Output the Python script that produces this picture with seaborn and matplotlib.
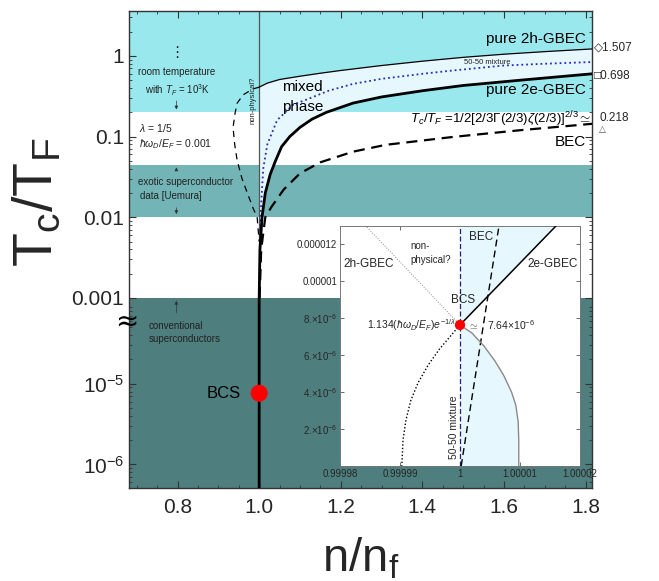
import numpy as np
import pandas as pd
import matplotlib
matplotlib.use("Agg")
import matplotlib.pyplot as plt
import seaborn as sns

# ---- main panel (x = n/n_f, y = Tc/T_F) ----
# upper edge of the mixed phase (pure 2h-GBEC), thin solid
x_2h = [1.0, 1.02, 1.05, 1.1, 1.15, 1.2, 1.3, 1.4, 1.5, 1.6, 1.7, 1.816]
y_2h = [0.41, 0.46, 0.51, 0.56, 0.61, 0.66, 0.76, 0.86, 0.96, 1.05, 1.13, 1.22]
# 50-50 mixture, blue dotted
x_mix = [1.0, 1.003, 1.01, 1.02, 1.044, 1.084, 1.118, 1.17, 1.23, 1.3, 1.4, 1.475, 1.6, 1.7, 1.816]
y_mix = [0.001, 0.01, 0.04, 0.08, 0.16, 0.25, 0.29, 0.37, 0.45, 0.52, 0.6, 0.66, 0.76, 0.8, 0.84]
# pure 2e-GBEC, thick solid (runs down x = 1 to the bottom)
x_2e = [1.0, 1.0, 1.002, 1.007, 1.015, 1.027, 1.04, 1.055, 1.075, 1.10, 1.13, 1.165,
        1.23, 1.3, 1.4, 1.5, 1.64, 1.816]
y_2e = [5.1e-7, 0.001, 0.004, 0.01, 0.02, 0.034, 0.05, 0.075, 0.1, 0.13, 0.165, 0.2,
        0.26, 0.31, 0.37, 0.43, 0.5, 0.6]
# BEC, thick dashed
x_bec = [1.001, 1.005, 1.015, 1.03, 1.06, 1.1, 1.15, 1.23, 1.31, 1.475, 1.64, 1.816]
y_bec = [0.001, 0.004, 0.01, 0.0134, 0.022, 0.035, 0.048, 0.065, 0.079, 0.099, 0.12, 0.144]
# "non-physical?" branch, thin dashed
x_np = [1.0, 0.985, 0.961, 0.946, 0.941, 0.936, 0.94, 0.946, 0.958, 0.971, 0.985, 0.995, 1.0]
y_np = [0.41, 0.39, 0.33, 0.26, 0.196, 0.13, 0.08, 0.051, 0.03, 0.02, 0.013, 0.01, 0.005]

bcs_x, bcs_y = 1.0, 7.64e-6

# background bands (Tc/T_F ranges)
band_lo = [1e-8, 1e-3, 0.01, 0.045, 0.2]
band_hi = [1e-3, 0.01, 0.045, 0.2, 10]
band_colors = ["#4f7e7e", "white", "#73b4b6", "white", "#98e8ee"]

x_ticks = [0.8, 1.0, 1.2, 1.4, 1.6, 1.8]
x_ticklabels = ["0.8", "1.0", "1.2", "1.4", "1.6", "1.8"]
y_ticks = [1e-6, 1e-5, 1e-3, 1e-2, 0.1, 1]
y_ticklabels = [r"$10^{-6}$", r"$10^{-5}$", "0.001", "0.01", "0.1", "1"]

# ---- inset (zoom around the BCS point) ----
ins_x_2e = [1.0, 1.000016]
ins_y_2e = [7.64e-6, 1.3e-5]
ins_x_2h = [1.0, 0.9999843]
ins_y_2h = [7.64e-6, 1.3e-5]
ins_x_bec = [1.0000002, 1.0000065]
ins_y_bec = [0.0, 1.3e-5]
ins_x_e = [1.0, 1.000002, 1.000004, 1.0000058, 1.0000073, 1.0000086, 1.0000093, 1.0000097, 1.0000098, 1.0000098]
ins_y_e = [7.64e-6, 7.2e-6, 6.5e-6, 5.7e-6, 4.9e-6, 4.0e-6, 3.3e-6, 2.4e-6, 1.4e-6, 0.0]
ins_x_h = [1.0, 0.9999985, 0.9999965, 0.9999947, 0.999993, 0.9999918, 0.999991, 0.9999905, 0.9999903]
ins_y_h = [7.64e-6, 7.07e-6, 6.3e-6, 5.47e-6, 4.5e-6, 3.55e-6, 2.5e-6, 1.41e-6, 0.0]
ins_xticks = [0.99998, 0.99999, 1.0, 1.00001, 1.00002]
ins_xticklabels = ["0.99998", "0.99999", "1", "1.00001", "1.00002"]
ins_yticks = [2e-6, 4e-6, 6e-6, 8e-6, 1e-5, 1.2e-5]
ins_yticklabels = [r"2.$\times$10$^{-6}$", r"4.$\times$10$^{-6}$", r"6.$\times$10$^{-6}$",
                   r"8.$\times$10$^{-6}$", "0.00001", "0.000012"]


# broken log axis: the decade 1e-4..1e-3 is squeezed to almost nothing
def fwd(y):
    y = np.asarray(y, dtype=float)
    with np.errstate(divide="ignore", invalid="ignore"):
        ly = np.log10(np.clip(y, 1e-300, None))
    return np.where(ly >= -3, ly, np.where(ly >= -4, -3 + (ly + 3) * 0.064, ly + 0.936))


def inv(u):
    u = np.asarray(u, dtype=float)
    with np.errstate(over="ignore"):
        return np.where(u >= -3, 10.0 ** u,
                        np.where(u >= -3.064, 10.0 ** (-3 + (u + 3) / 0.064), 10.0 ** (u - 0.936)))


sns.set_theme(style="ticks")
plt.rcParams["font.family"] = ["Liberation Sans", "DejaVu Sans"]
plt.rcParams["mathtext.fontset"] = "custom"
plt.rcParams["mathtext.rm"] = "Liberation Sans"
plt.rcParams["mathtext.it"] = "Liberation Sans:italic"
plt.rcParams["mathtext.bf"] = "Liberation Sans:bold"
plt.rcParams["xtick.direction"] = "in"
plt.rcParams["ytick.direction"] = "in"

fig = plt.figure(figsize=(6.59, 5.81), dpi=100)
ax = fig.add_axes([0.1958, 0.160, 0.7026, 0.821])
ax.set_yscale("function", functions=(fwd, inv))

for lo, hi, c in zip(band_lo, band_hi, band_colors):
    ax.axhspan(lo, hi, color=c, lw=0, zorder=0)

# mixed phase region
ax.fill(x_2h + x_2e[::-1], y_2h + y_2e[::-1], color="#e6f8fe", lw=0, zorder=1)
ax.axvline(1.0, color="#555555", lw=0.9, zorder=2)

sns.lineplot(x=x_2h, y=y_2h, ax=ax, color="black", lw=0.9, sort=False, estimator=None, zorder=3)
sns.lineplot(x=x_mix, y=y_mix, ax=ax, color="#2a2ab5", lw=1.3, ls=":", sort=False, estimator=None, zorder=3)
sns.lineplot(x=x_2e, y=y_2e, ax=ax, color="black", lw=2.0, sort=False, estimator=None, zorder=3)
ax.plot(x_bec, y_bec, color="black", lw=1.6, ls=(0, (5, 3)), zorder=3)
ax.plot(x_np, y_np, color="black", lw=0.9, ls=(0, (5, 4)), zorder=3)
sns.scatterplot(x=[bcs_x], y=[bcs_y], ax=ax, color="red", s=150, edgecolor="none", zorder=5)

ax.set_xlim(0.681, 1.816)
ax.set_ylim(5.1e-7, 3.6)
ax.set_xticks(x_ticks, x_ticklabels)
ax.set_xticks(np.arange(0.7, 1.81, 0.05), minor=True)
ax.set_yticks(y_ticks, y_ticklabels)
minor_y = [m * 10.0 ** k for k in (-7, -6, -5, -3, -2, -1, 0) for m in range(2, 10)]
ax.set_yticks([v for v in minor_y if 5.1e-7 < v < 3.6], minor=True)
ax.tick_params(which="both", top=True, right=True, labelsize=15, color="#333333")
ax.tick_params(which="major", length=5, width=0.8)
ax.tick_params(which="minor", length=2.5, width=0.6)
ax.tick_params(axis="x", pad=7)
for s in ax.spines.values():
    s.set_linewidth(1.0)
    s.set_color("#333333")

ax.set_xlabel(r"$\mathregular{n/n_f}$", fontsize=34)
ax.xaxis.set_label_coords(0.5, -0.1)
ax.set_ylabel(r"$\mathregular{T_c/T_F}$", fontsize=40)
ax.yaxis.set_label_coords(-0.14, 0.6)

# annotations, main panel
tc = "#222222"
ax.text(0.797, 1.09, "⋮", fontsize=11, ha="center", va="center", color=tc, family=["DejaVu Sans"])
ax.text(0.797, 0.63, "room temperature", fontsize=7, ha="center", va="center", color=tc)
ax.text(0.80, 0.38, r"with $T_F$ = 10$^3$K", fontsize=7, ha="center", va="center", color=tc)
ax.annotate("", xy=(0.797, 0.2), xytext=(0.797, 0.3),
            arrowprops=dict(arrowstyle="-|>", lw=0.5, color="#333333", mutation_scale=5))
ax.text(0.706, 0.128, r"$\lambda$ = 1/5", fontsize=7.5, ha="left", va="center", color=tc)
ax.text(0.706, 0.081, r"$\hbar\omega_D/E_F$ = 0.001", fontsize=7.5, ha="left", va="center", color=tc)
ax.annotate("", xy=(0.797, 0.045), xytext=(0.797, 0.035),
            arrowprops=dict(arrowstyle="-|>", lw=0.5, color="#333333", mutation_scale=5))
ax.text(0.702, 0.027, "exotic superconductor", fontsize=7, ha="left", va="center", color=tc)
ax.text(0.709, 0.0185, "data [Uemura]", fontsize=7, ha="left", va="center", color=tc)
ax.annotate("", xy=(0.797, 0.0101), xytext=(0.797, 0.0142),
            arrowprops=dict(arrowstyle="-|>", lw=0.5, color="#333333", mutation_scale=5))
ax.annotate("", xy=(0.797, 0.00099), xytext=(0.797, 7e-5),
            arrowprops=dict(arrowstyle="-|>", lw=0.5, color="#333333", mutation_scale=5))
ax.text(0.728, 5.2e-5, "conventional", fontsize=7, ha="left", va="center", color=tc)
ax.text(0.728, 3.6e-5, "superconductors", fontsize=7, ha="left", va="center", color=tc)
ax.text(-0.005, 5.9e-5, "≈", fontsize=20, ha="center", va="center", color="black",
        transform=ax.get_yaxis_transform(), clip_on=False, family=["DejaVu Sans"])
ax.text(0.955, bcs_y, "BCS", fontsize=12, ha="right", va="center", color="black")
ax.text(0.985, 0.28, "non-physical?", fontsize=5.5, rotation=90, ha="center", va="center", color=tc)
ax.text(1.056, 0.41, "mixed", fontsize=11, ha="left", va="center", color="black")
ax.text(1.056, 0.23, "phase", fontsize=11, ha="left", va="center", color="black")
ax.text(1.80, 1.62, "pure 2h-GBEC", fontsize=11, ha="right", va="center", color="black")
ax.text(1.56, 0.84, "50-50 mixture", fontsize=5.5, ha="center", va="center", color=tc)
ax.text(1.80, 0.38, "pure 2e-GBEC", fontsize=11, ha="right", va="center", color="black")
ax.text(1.814, 0.166, r"$T_c/T_F$ =1/2[2/3$\Gamma$(2/3)$\zeta$(2/3)]$^{2/3}$$\simeq$",
        fontsize=9.5, ha="right", va="center", color="black")
ax.text(1.80, 0.086, "BEC", fontsize=11, ha="right", va="center", color="black")

yt = ax.get_yaxis_transform()
ax.text(1.004, 1.26, "◇1.507", fontsize=8.5, ha="left", va="center", transform=yt, clip_on=False,
        family=["Liberation Sans", "DejaVu Sans"])
ax.text(1.004, 0.56, "□0.698", fontsize=8.5, ha="left", va="center", transform=yt, clip_on=False,
        family=["Liberation Sans", "DejaVu Sans"])
ax.text(1.016, 0.168, "0.218", fontsize=8.5, ha="left", va="center", transform=yt, clip_on=False)
ax.text(1.016, 0.122, "△", fontsize=6.5, ha="left", va="center", transform=yt, clip_on=False,
        family=["DejaVu Sans"], color="#555555")

# ---- inset ----
ins = fig.add_axes([0.516, 0.198, 0.364, 0.413])
ins.set_facecolor("white")
ins.fill(ins_x_e[::-1] + ins_x_2e + [1.0, 1.0], ins_y_e[::-1] + ins_y_2e + [1.3e-5, 0.0],
         color="#e6f8fe", lw=0, zorder=1)
ins.axvline(1.0, color="#20206e", lw=0.9, ls=(0, (4, 2)), zorder=2)
sns.lineplot(x=ins_x_2e, y=ins_y_2e, ax=ins, color="black", lw=1.1, sort=False, estimator=None, zorder=3)
sns.lineplot(x=ins_x_2h, y=ins_y_2h, ax=ins, color="#888888", lw=0.7, ls=":", sort=False, estimator=None, zorder=3)
ins.plot(ins_x_bec, ins_y_bec, color="black", lw=1.0, ls=(0, (5, 3)), zorder=3)
ins.plot(ins_x_e, ins_y_e, color="#8a8a8a", lw=1.0, zorder=3)
ins.plot(ins_x_h, ins_y_h, color="black", lw=1.0, ls=(0, (1, 1.5)), zorder=3)
sns.scatterplot(x=[bcs_x], y=[bcs_y], ax=ins, color="red", s=55, edgecolor="none", zorder=5)
ins.set_xlim(0.99998, 1.00002)
ins.set_ylim(0, 1.3e-5)
ins.set_xticks(ins_xticks, ins_xticklabels)
ins.set_yticks(ins_yticks, ins_yticklabels)
ins.tick_params(which="both", top=True, right=True, labelsize=7, length=3, width=0.6,
                color="#555555", pad=2)
for s in ins.spines.values():
    s.set_linewidth(0.7)
    s.set_color("#777777")

ins.text(0.9999848, 1.094e-5, "2h-GBEC", fontsize=8.5, ha="center", va="center")
ins.text(0.9999917, 1.19e-5, "non-", fontsize=7, ha="left", va="center")
ins.text(0.9999917, 1.115e-5, "physical?", fontsize=7, ha="left", va="center")
ins.text(1.0000035, 1.24e-5, "BEC", fontsize=8.5, ha="center", va="center")
ins.text(1.0000155, 1.094e-5, "2e-GBEC", fontsize=8.5, ha="center", va="center")
ins.text(1.0000005, 0.9e-5, "BCS", fontsize=8.5, ha="center", va="center")
ins.text(0.9999993, 0.762e-5, r"1.134($\hbar\omega_D/E_F$)$e^{-1/\lambda}$", fontsize=7.5,
         ha="right", va="center")
ins.text(1.0000022, 0.758e-5, r"$\simeq$", fontsize=7, ha="center", va="center")
ins.text(1.0000045, 0.762e-5, r"7.64$\times$10$^{-6}$", fontsize=7.5, ha="left", va="center")
ins.text(0.999999, 0.21e-5, "50-50 mixture", fontsize=7.5, rotation=90, ha="center", va="center")

fig.savefig("out.png", dpi=100)
